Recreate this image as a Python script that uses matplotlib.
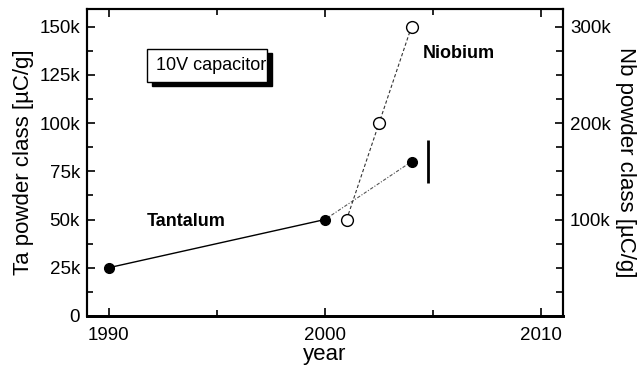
import matplotlib.pyplot as plt
from matplotlib.patches import Rectangle
from matplotlib.ticker import FuncFormatter, MultipleLocator

plt.rcParams["font.family"] = ["Liberation Sans", "DejaVu Sans"]

# Ta powder class (left axis, uC/g)
ta_year = [1990, 2000]
ta_val = [25000, 50000]
ta_trend_year = [2000, 2004]
ta_trend_val = [50000, 80000]

# Nb powder class (right axis, uC/g)
nb_year = [2001, 2002.5, 2004]
nb_val = [100000, 200000, 300000]

# vertical bar next to the 2004 Ta point
bar_year = 2004.75
bar_lo, bar_hi = 69000, 91000

def kfmt(v, pos):
    return "0" if v == 0 else f"{int(v / 1000)}k"

def kfmt_right(v, pos):
    return "" if v == 0 else f"{int(v / 1000)}k"

fig = plt.figure(figsize=(6.42, 3.67), dpi=100)
ax = fig.add_axes([0.1355, 0.139, 0.7415, 0.836])
ax2 = ax.twinx()

ax.plot(ta_year, ta_val, color="black", lw=1.0, marker="o", ms=7,
        mfc="black", mec="black", zorder=3)
ax.plot(ta_trend_year, ta_trend_val, color="#555555", lw=0.8,
        ls=(0, (3, 1.5, 1, 1.5)), zorder=2)
ax.plot(ta_trend_year[1:], ta_trend_val[1:], ls="none", marker="o", ms=7,
        mfc="black", mec="black", zorder=3)
ax.vlines(bar_year, bar_lo, bar_hi, color="black", lw=2)

ax2.plot(nb_year, nb_val, color="#333333", lw=0.8, ls=(0, (3, 2)),
         marker="o", ms=8.5, mfc="white", mec="black", mew=1.0)

ax.text(1993.6, 48800, "Tantalum", fontweight="bold", fontsize=13,
        ha="center", va="center")
ax.text(2006.2, 136000, "Niobium", fontweight="bold", fontsize=13,
        ha="center", va="center")

# label box with drop shadow
bx0, bx1, by0, by1 = 1991.76, 1997.31, 121400, 138500
ax.add_patch(Rectangle((bx0 + 0.25, by0 - 2400), bx1 - bx0, by1 - by0,
                       facecolor="black", edgecolor="black", zorder=4))
box = Rectangle((bx0, by0), bx1 - bx0, by1 - by0,
                facecolor="white", edgecolor="black", lw=1.0, zorder=5)
ax.add_patch(box)
t = ax.text(bx0 + 0.45, (by0 + by1) / 2, "10V capacitor", fontsize=13,
            ha="left", va="center", zorder=6)
t.set_clip_path(box)

ax.set_xlim(1989, 2011)
ax.set_ylim(0, 159000)
ax2.set_ylim(0, 318000)

ax.xaxis.set_major_locator(MultipleLocator(10))
ax.xaxis.set_minor_locator(MultipleLocator(5))
ax.yaxis.set_major_locator(MultipleLocator(25000))
ax.yaxis.set_minor_locator(MultipleLocator(12500))
ax2.yaxis.set_major_locator(MultipleLocator(100000))
ax2.yaxis.set_minor_locator(MultipleLocator(25000))
ax.yaxis.set_major_formatter(FuncFormatter(kfmt))
ax2.yaxis.set_major_formatter(FuncFormatter(kfmt_right))

ax.tick_params(axis="both", which="both", direction="in", labelsize=13.5,
               width=1.2, top=True)
ax.tick_params(which="major", length=6, pad=5)
ax.tick_params(axis="x", which="major", pad=8)
ax.tick_params(which="minor", length=4)
ax.tick_params(axis="x", which="minor", top=True, length=4)
ax2.tick_params(axis="y", which="both", direction="in", labelsize=13.5,
                width=1.2, pad=5)
ax2.tick_params(which="major", length=6)
ax2.tick_params(which="minor", length=5)

for a in (ax, ax2):
    for s in a.spines.values():
        s.set_linewidth(1.5)
    a.spines["bottom"].set_linewidth(2)

ax.set_xlabel("year", fontsize=16, labelpad=0)
ax.set_ylabel("Ta powder class [\u00b5C/g]", fontsize=16, labelpad=4)
ax2.set_ylabel("Nb powder class [\u00b5C/g]", fontsize=16, rotation=270,
               labelpad=18)

fig.savefig("out.png", dpi=100)
